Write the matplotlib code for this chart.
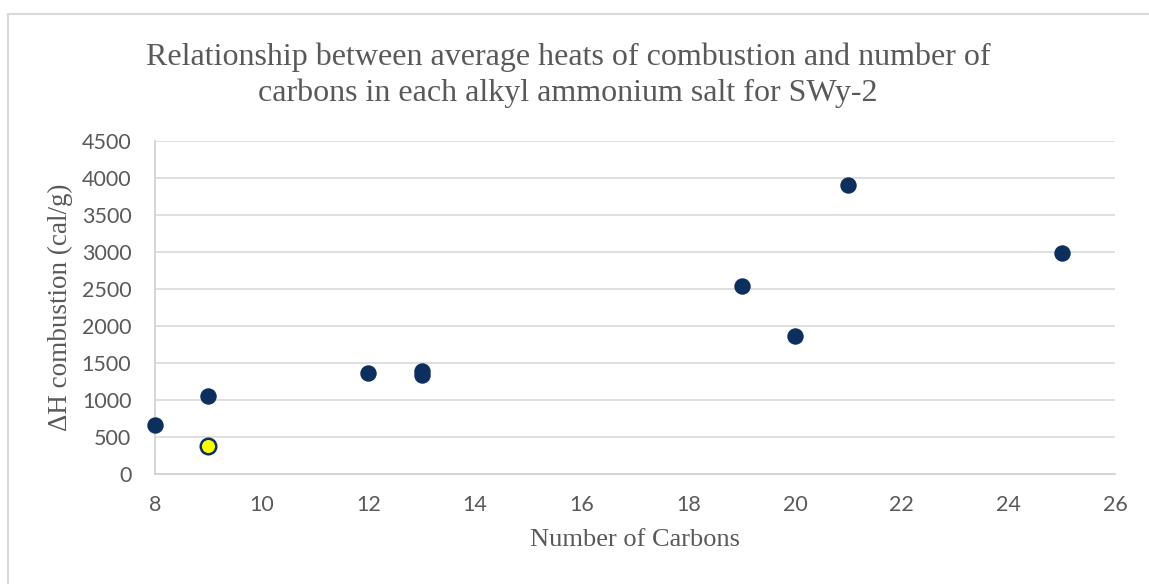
import matplotlib
matplotlib.use("Agg")
import matplotlib.pyplot as plt
from matplotlib.patches import Rectangle

carbons = [8, 9, 12, 13, 13, 19, 20, 21, 25]
heats = [660, 1050, 1360, 1390, 1340, 2540, 1870, 3900, 2985]
highlight_x = [9]
highlight_y = [380]

title = "Relationship between average heats of combustion and number of\ncarbons in each alkyl ammonium salt for SWy-2"
xlabel = "Number of Carbons"
ylabel = "\u0394H combustion (cal/g)"
xticks = [8, 10, 12, 14, 16, 18, 20, 22, 24, 26]
yticks = [0, 500, 1000, 1500, 2000, 2500, 3000, 3500, 4000, 4500]

W, H = 1149, 584
fig = plt.figure(figsize=(W / 100, H / 100), dpi=100)
fig.patch.set_facecolor("white")

# outer chart border
fig.patches.append(Rectangle((8 / W, -0.1), 1.2, 1 - 14 / H + 0.1, transform=fig.transFigure,
                             fill=False, edgecolor="#d9d9d9", linewidth=1.5))

ax = fig.add_axes([155 / W, 1 - 474 / H, (1115 - 155) / W, (474 - 141) / H])
navy = "#0d2f5e"
ax.scatter(carbons, heats, s=140, color=navy, zorder=3, linewidths=0, clip_on=False)
ax.scatter(highlight_x, highlight_y, s=125, color="#ffff00", edgecolors=navy, linewidths=1.8, zorder=4)

ax.set_xlim(8, 26)
ax.set_ylim(0, 4500)
ax.set_xticks(xticks)
ax.set_yticks(yticks)
ax.grid(axis="y", color="#d9d9d9", linewidth=1.2)
ax.set_axisbelow(True)
for s in ["top", "right"]:
    ax.spines[s].set_visible(False)
for s in ["left", "bottom"]:
    ax.spines[s].set_color("#d0d0d0")
    ax.spines[s].set_linewidth(1.2)
ax.tick_params(length=0, labelsize=15.5, labelcolor="#595959")
ax.tick_params(axis="x", pad=15)
ax.tick_params(axis="y", pad=17)
for lab in ax.get_xticklabels() + ax.get_yticklabels():
    lab.set_family("Lato")

ax.set_xlabel(xlabel, family="Liberation Serif", fontsize=19, color="#595959", labelpad=10)
ax.set_ylabel(ylabel, family="Liberation Serif", fontsize=19.5, color="#595959", labelpad=6)
fig.text(568 / W, 1 - 75 / H, title, ha="center", va="center", family="Liberation Serif",
         fontsize=23, color="#595959", linespacing=1.3)

fig.savefig("out.png", dpi=100)
